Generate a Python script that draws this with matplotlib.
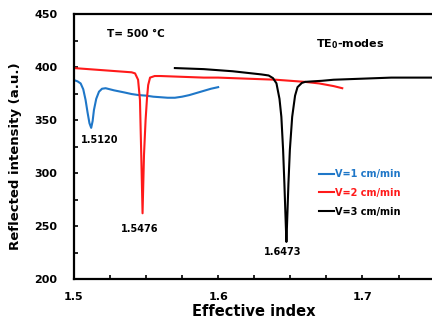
import matplotlib
matplotlib.use('Agg')
import matplotlib.pyplot as plt
from matplotlib.ticker import MultipleLocator

# Reflected intensity vs effective index, TE0 modes, three pulling speeds
blue_x = [1.500, 1.5025, 1.5047, 1.5065, 1.5081, 1.5095, 1.5108, 1.5120, 1.5130, 1.5139,
          1.5155, 1.5174, 1.5195, 1.522, 1.5278, 1.535, 1.540, 1.545, 1.550,
          1.555, 1.560, 1.565, 1.570, 1.575, 1.580, 1.585, 1.590, 1.595, 1.600]
blue_y = [387.7, 386.5, 384.5, 379, 369, 357, 347, 342.6, 349, 359.4,
          370, 376.7, 379.5, 380, 378, 376, 374.5, 373.5, 373,
          372, 371.5, 371, 371, 372, 373.5, 375.5, 377.5, 379.5, 381]

red_x = [1.500, 1.505, 1.510, 1.515, 1.520, 1.525, 1.530, 1.535, 1.540, 1.5424,
         1.5445, 1.5458, 1.5467, 1.5476, 1.5486, 1.5497, 1.5507, 1.5515, 1.5528, 1.556,
         1.560, 1.570, 1.580, 1.590, 1.600, 1.610, 1.620, 1.630, 1.640,
         1.650, 1.660, 1.670, 1.680, 1.686]
red_y = [399, 398.5, 398, 397.5, 397, 396.5, 396, 395.5, 395, 394,
         388, 369, 317, 262, 317, 350, 371, 383, 390, 391.5,
         391.5, 391, 390.5, 390, 390, 389.5, 389, 388.5, 388,
         387, 386, 384.5, 382, 380]

black_x = [1.570, 1.580, 1.590, 1.600, 1.610, 1.620, 1.630, 1.635, 1.638, 1.6404,
           1.6425, 1.6438, 1.6450, 1.6459, 1.6466, 1.6473, 1.6480, 1.6487, 1.6497, 1.6513,
           1.6533, 1.6550, 1.658, 1.6604, 1.666, 1.672, 1.680, 1.690, 1.700, 1.710,
           1.720, 1.730, 1.740, 1.750]
black_y = [399, 398.5, 398, 397, 396, 394.5, 393, 392, 389.5, 384.6,
           370, 353, 322, 290, 262, 235, 262, 290, 322, 353,
           373, 381, 385, 386, 386.5, 387, 388, 388.5, 389, 389.5,
           390, 390, 390, 390]

series = [(blue_x, blue_y, '#1f77c8', 'V=1 cm/min'),
          (red_x, red_y, '#ff1a1a', 'V=2 cm/min'),
          (black_x, black_y, 'black', 'V=3 cm/min')]

peaks = [(1.518, 331, '1.5120'), (1.5455, 247, '1.5476'), (1.6445, 225.5, '1.6473')]

fig = plt.figure(figsize=(4.32, 3.22), dpi=100)
ax = fig.add_axes([0.171, 0.1335, 0.835, 0.823])

for xs, ys, c, lab in series:
    ax.plot(xs, ys, color=c, lw=1.5, label=lab)

for px, py, txt in peaks:
    ax.text(px, py, txt, ha='center', va='center', fontsize=7, fontweight='bold')

ax.text(1.523, 431, 'T= 500 °C', fontsize=7.5, fontweight='bold', va='center')
ax.text(1.668, 422, r'TE$_\mathbf{0}$-modes', fontsize=8, fontweight='bold', va='center')

ax.set_xlim(1.5, 1.75)
ax.set_ylim(200, 450)
ax.xaxis.set_major_locator(MultipleLocator(0.1))
ax.xaxis.set_minor_locator(MultipleLocator(0.025))
ax.yaxis.set_major_locator(MultipleLocator(50))
ax.yaxis.set_minor_locator(MultipleLocator(25))
ax.tick_params(which='both', direction='in', length=3, width=1.2, top=False, right=False)
ax.tick_params(axis='y', pad=12)
ax.tick_params(axis='x', pad=9)
for t in ax.get_xticklabels() + ax.get_yticklabels():
    t.set_fontweight('bold')
    t.set_fontsize(8)

for s in ['left', 'bottom', 'top']:
    ax.spines[s].set_linewidth(1.6)
ax.spines['right'].set_visible(False)

ax.set_xlabel('Effective index', fontsize=10.5, fontweight='bold', labelpad=2)
ax.set_ylabel('Reflected intensity (a.u.)', fontsize=9.5, fontweight='bold')
ax.yaxis.set_label_coords(-0.145, 0.464)

leg = ax.legend(loc='center left', bbox_to_anchor=(0.655, 0.325), frameon=False,
                handlelength=1.6, handletextpad=0.1, labelspacing=0.9,
                prop={'size': 7, 'weight': 'bold'})
for line, text in zip(leg.get_lines(), leg.get_texts()):
    text.set_color(line.get_color())

fig.savefig('out.png', dpi=100)
